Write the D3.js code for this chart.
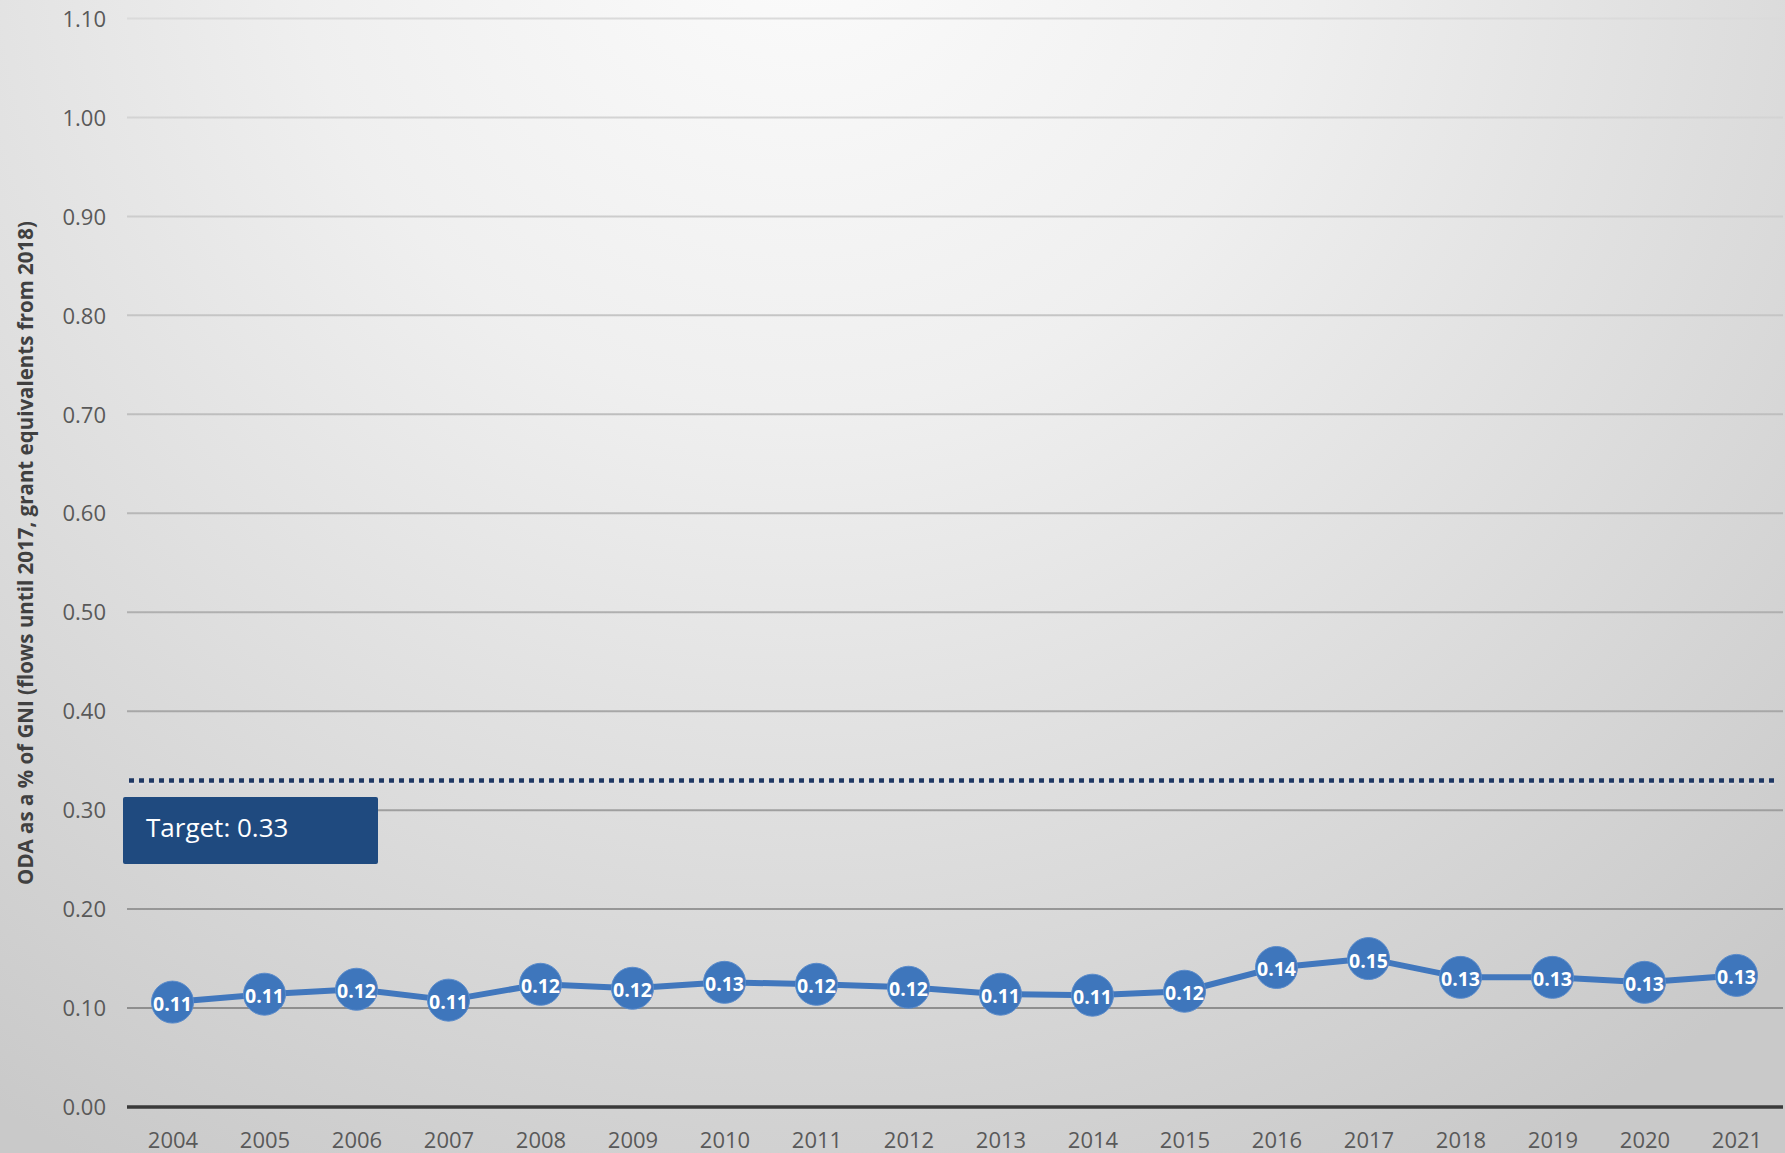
<!DOCTYPE html>
<html>
<head>
<meta charset="utf-8">
<script src="https://cdn.jsdelivr.net/npm/d3@7"></script>
<style>
  html, body { margin: 0; padding: 0; background: #e6e6e6; }
  svg { display: block; font-family: "Open Sans", "Noto Sans", sans-serif; }
</style>
</head>
<body>
<svg id="chart" width="1785" height="1153"></svg>
<script>
const years = ["2004","2005","2006","2007","2008","2009","2010","2011","2012","2013","2014","2015","2016","2017","2018","2019","2020","2021"];
const odaValues = [0.106,0.114,0.119,0.108,0.124,0.120,0.126,0.124,0.121,0.114,0.113,0.117,0.141,0.150,0.131,0.131,0.126,0.133];
const yTicks = [0,0.1,0.2,0.3,0.4,0.5,0.6,0.7,0.8,0.9,1.0,1.1];
const targetValue = 0.33;
const targetLabel = "Target: 0.33";
const yTitle = "ODA as a % of GNI (flows until 2017, grant equivalents from 2018)";

const W = 1785, H = 1153;
const svg = d3.select("#chart");
const defs = svg.append("defs");

const bg = defs.append("radialGradient").attr("id","bg")
  .attr("gradientUnits","userSpaceOnUse").attr("cx",800).attr("cy",-100).attr("r",1450);
bg.append("stop").attr("offset","0").attr("stop-color","#fcfcfc");
bg.append("stop").attr("offset","0.35").attr("stop-color","#efefef");
bg.append("stop").attr("offset","1").attr("stop-color","#c9c9c9");
svg.append("rect").attr("width",W).attr("height",H).attr("fill","url(#bg)");

const gridGrad = defs.append("linearGradient").attr("id","gridg")
  .attr("gradientUnits","userSpaceOnUse").attr("x1",0).attr("y1",0).attr("x2",0).attr("y2",1110);
gridGrad.append("stop").attr("offset","0").attr("stop-color","#dcdcdc");
gridGrad.append("stop").attr("offset","0.5").attr("stop-color","#b4b4b4");
gridGrad.append("stop").attr("offset","1").attr("stop-color","#868686");

const x = d3.scalePoint().domain(years).range([126.5, 1782.5]).padding(0.5);
const y = d3.scaleLinear().domain([0, 1.1]).range([1107, 18.5]);

// gridlines
svg.append("g").selectAll("line").data(yTicks.filter(d => d > 0)).join("line")
  .attr("x1", 127).attr("x2", 1783)
  .attr("y1", d => y(d)).attr("y2", d => y(d))
  .attr("stroke", "url(#gridg)").attr("stroke-width", 2);

// y axis labels
const yAxis = d3.axisLeft(y).tickValues(yTicks).tickFormat(d3.format(".2f")).tickSize(0).tickPadding(0);
const gy = svg.append("g").attr("transform","translate(106,0)").call(yAxis);
gy.select(".domain").remove();
gy.selectAll("text").attr("font-size",22).attr("fill","#595959")
  .attr("font-family","'Open Sans', sans-serif").attr("dy","0.35em");

// x axis
const xAxis = d3.axisBottom(x).tickSize(0).tickPadding(0);
const gx = svg.append("g").attr("transform","translate(0,1140)").call(xAxis);
gx.select(".domain").remove();
gx.selectAll("text").attr("font-size",22).attr("fill","#595959")
  .attr("font-family","'Open Sans', sans-serif").attr("dy","0.35em").attr("y",0);

// zero axis line
svg.append("line").attr("x1",127).attr("x2",1783).attr("y1",y(0)).attr("y2",y(0))
  .attr("stroke","#3a3a3a").attr("stroke-width",3.5);

// y title
svg.append("text").attr("transform","translate(25,553) rotate(-90)")
  .attr("text-anchor","middle").attr("dominant-baseline","central")
  .attr("font-size",20.5).attr("font-weight","bold").attr("fill","#404040")
  .text(yTitle);

// target line
svg.append("line").attr("x1",129).attr("x2",1776)
  .attr("y1",y(targetValue)+2.5).attr("y2",y(targetValue)+2.5)
  .attr("stroke","#e8e4ea").attr("stroke-width",4).attr("stroke-dasharray","5,5").attr("opacity",0.6);
svg.append("line").attr("x1",129).attr("x2",1776)
  .attr("y1",y(targetValue)).attr("y2",y(targetValue))
  .attr("stroke","#1f3864").attr("stroke-width",4.5).attr("stroke-dasharray","5,5");

// target box
svg.append("rect").attr("x",123).attr("y",797).attr("width",255).attr("height",67).attr("rx",2)
  .attr("fill","#1f4a7f");
svg.append("text").attr("x",146).attr("y",837).attr("font-size",26).attr("fill","#ffffff")
  .text(targetLabel);

// series
const data = years.map((yr, i) => ({ yr, v: odaValues[i] }));
const line = d3.line().x(d => x(d.yr)).y(d => y(d.v));
svg.append("path").datum(data).attr("d", line)
  .attr("fill","none").attr("stroke","#4177bd").attr("stroke-width",6).attr("stroke-linejoin","round");

svg.append("g").selectAll("circle").data(data).join("circle")
  .attr("cx", d => x(d.yr)).attr("cy", d => y(d.v)).attr("r", 21)
  .attr("fill","#3e76bc").attr("stroke","#5a8bcb").attr("stroke-width",1);

svg.append("g").selectAll("text").data(data).join("text")
  .attr("x", d => x(d.yr)).attr("y", d => y(d.v) + 1.5)
  .attr("text-anchor","middle").attr("dominant-baseline","central")
  .attr("font-size",19.5).attr("font-weight","bold").attr("fill","#ffffff")
  .text(d => d.v.toFixed(2));
</script>
</body>
</html>
